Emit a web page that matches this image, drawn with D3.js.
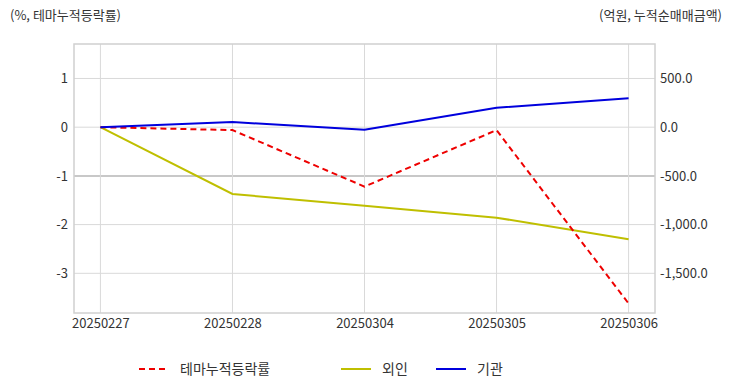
<!DOCTYPE html>
<html><head><meta charset="utf-8">
<script src="https://cdn.jsdelivr.net/npm/d3@7"></script>
<style>
body{margin:0;background:#fff;}
text{font-family:"Noto Sans CJK KR","Noto Sans",sans-serif;}
</style></head>
<body><svg id="c" width="732" height="392"></svg>
<script>
const categories = ["20250227","20250228","20250304","20250305","20250306"];
const themeRate = [0, -0.06, -1.22, -0.06, -3.62];      // %, left axis
const foreign = [0, -686, -806, -929, -1151];            // 억원, right axis
const institution = [0, 53, -26, 200, 297];              // 억원, right axis
const leftTicks = [1, 0, -1, -2, -3];
const rightTicks = [500, 0, -500, -1000, -1500];
const seriesNames = ["테마누적등락률", "외인", "기관"];

const loc = d3.formatLocale({decimal: ".", thousands: ",", grouping: [3], currency: ["", ""], minus: "-"});

const svg = d3.select("#c");
const L = 74, R = 655, T = 44, B = 313;
const x = d3.scalePoint().domain(categories).range([L, R]).padding(0.2);
const yL = d3.scaleLinear().domain([-3.815, 1.708]).range([B, T]);
const yR = d3.scaleLinear().domain([-1907.5, 854]).range([B, T]);

// grid
const g = svg.append("g");
leftTicks.forEach(t => {
  g.append("line").attr("x1", L).attr("x2", R).attr("y1", yL(t)).attr("y2", yL(t))
    .attr("stroke", t === -1 ? "#c8c8c8" : "#d9d9d9").attr("stroke-width", t === -1 ? 2 : 1);
});
categories.forEach(c => {
  g.append("line").attr("x1", x(c)).attr("x2", x(c)).attr("y1", T).attr("y2", B)
    .attr("stroke", "#d9d9d9").attr("stroke-width", 1);
});
g.append("rect").attr("x", L).attr("y", T).attr("width", R - L).attr("height", B - T)
  .attr("fill", "none").attr("stroke", "#d0d0d0").attr("stroke-width", 1.5);

// axes
const axL = d3.axisLeft(yL).tickValues(leftTicks).tickSize(0).tickPadding(6).tickFormat(loc.format("d"));
const axR = d3.axisRight(yR).tickValues(rightTicks).tickSize(0).tickPadding(5).tickFormat(loc.format(",.1f"));
const axB = d3.axisBottom(x).tickSize(0).tickPadding(6);
[[axL, `translate(${L},0)`], [axR, `translate(${R},0)`], [axB, `translate(0,${B})`]].forEach(([a, tr]) => {
  const gg = svg.append("g").attr("transform", tr).call(a);
  gg.select(".domain").remove();
  gg.selectAll("text").attr("fill", "#333").style("font-size", "13px");
});

// lines
const lineL = d3.line().x((d, i) => x(categories[i])).y(d => yL(d));
const lineR = d3.line().x((d, i) => x(categories[i])).y(d => yR(d));
svg.append("path").datum(foreign).attr("d", lineR).attr("fill", "none").attr("stroke", "#bfbf00").attr("stroke-width", 2);
svg.append("path").datum(themeRate).attr("d", lineL).attr("fill", "none").attr("stroke", "#ee0000").attr("stroke-width", 2).attr("stroke-dasharray", "6,4");
svg.append("path").datum(institution).attr("d", lineR).attr("fill", "none").attr("stroke", "#0000dd").attr("stroke-width", 2);

// titles
svg.append("text").attr("x", 10).attr("y", 20).attr("fill", "#333").style("font-size", "13px").text("(%, 테마누적등락률)");
svg.append("text").attr("x", 722).attr("y", 20).attr("text-anchor", "end").attr("fill", "#333").style("font-size", "13px").text("(억원, 누적순매매금액)");

// legend
const leg = [
  {name: seriesNames[0], color: "#ee0000", dash: "6,4", x1: 139, x2: 167, tx: 180},
  {name: seriesNames[1], color: "#bfbf00", dash: null, x1: 341, x2: 371, tx: 382},
  {name: seriesNames[2], color: "#0000dd", dash: null, x1: 436, x2: 466, tx: 477}
];
leg.forEach(l => {
  svg.append("line").attr("x1", l.x1).attr("x2", l.x2).attr("y1", 369).attr("y2", 369)
    .attr("stroke", l.color).attr("stroke-width", 2).attr("stroke-dasharray", l.dash);
  svg.append("text").attr("x", l.tx).attr("y", 374).attr("fill", "#333").style("font-size", "14px").text(l.name);
});
</script></body></html>
